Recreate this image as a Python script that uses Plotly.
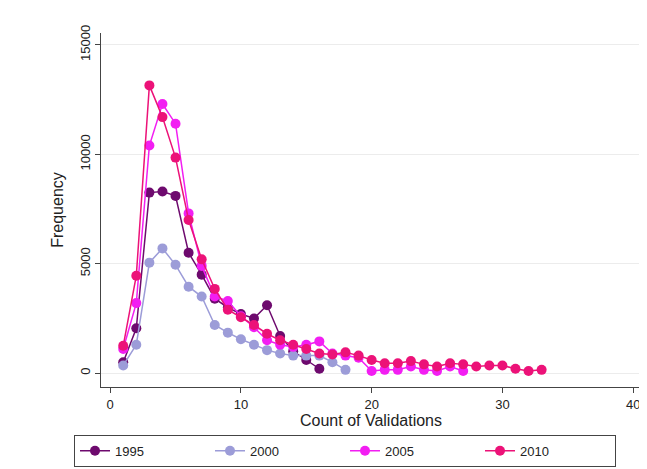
import plotly.graph_objects as go

x1995 = list(range(1, 17))
y1995 = [500, 2050, 8250, 8300, 8100, 5500, 4500, 3400, 3000, 2700, 2500, 3100, 1700, 1000, 600, 200]
x2000 = list(range(1, 19))
y2000 = [350, 1300, 5050, 5700, 4950, 3950, 3500, 2200, 1850, 1550, 1300, 1050, 900, 800, 800, 800, 500, 150]
x2005 = list(range(1, 28))
y2005 = [1100, 3200, 10400, 12300, 11400, 7300, 4900, 3500, 3300, 2600, 2100, 1500, 1300, 1200, 1300, 1450,
         900, 800, 700, 100, 150, 150, 300, 150, 100, 300, 100]
x2010 = list(range(1, 34))
y2010 = [1250, 4450, 13150, 11700, 9850, 7000, 5200, 3850, 2900, 2550, 2200, 1800, 1500, 1300, 1100, 900,
         850, 950, 800, 600, 450, 450, 550, 400, 300, 450, 400, 300, 350, 350, 200, 100, 150]

series = [("1995", x1995, y1995, "#6e0a6e"), ("2000", x2000, y2000, "#9c9cd8"),
          ("2005", x2005, y2005, "#f21ef2"), ("2010", x2010, y2010, "#ec1278")]

fig = go.Figure()
for name, xs, ys, c in series:
    fig.add_trace(go.Scatter(x=xs, y=ys, name=name, mode="lines+markers",
                             line=dict(color=c, width=1.5), marker=dict(color=c, size=10)))

fig.update_layout(
    width=647, height=469, paper_bgcolor="white", plot_bgcolor="white",
    margin=dict(l=93, r=14, t=25, b=90, autoexpand=False),
    font=dict(family="Liberation Sans, Arial", size=13, color="#222"),
    xaxis=dict(range=[-0.7, 40.6], tickvals=[0, 10, 20, 30, 40], ticks="outside", ticklen=5,
               showgrid=False, showline=True, linecolor="#444", zeroline=False, automargin=False,
               title=dict(text="Count of Validations", standoff=0)),
    yaxis=dict(range=[-634, 15544], tickvals=[0, 5000, 10000, 15000], tickformat="d",
               tickangle=-90, ticks="outside", ticklen=5, automargin=False,
               showgrid=True, gridcolor="#ececec", showline=True, linecolor="#444", zeroline=False,
               title=dict(text="Frequency", standoff=10)),
    legend=dict(orientation="h", x=-0.05, xanchor="left", y=-0.135, yanchor="top",
                bordercolor="#444", borderwidth=1, entrywidth=90, font=dict(size=13)),
)
fig.write_html("out.html")
